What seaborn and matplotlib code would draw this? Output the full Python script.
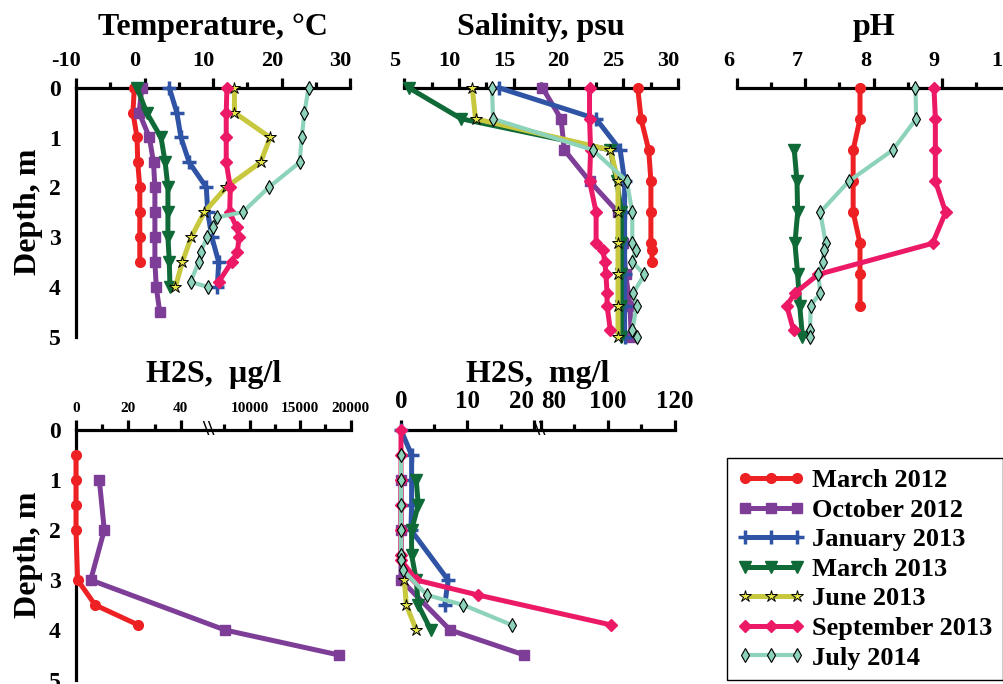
import numpy as np
import pandas as pd
import seaborn as sns
import matplotlib.pyplot as plt
from matplotlib.transforms import ScaledTranslation

## series names and look

seasons = ["March 2012", "October 2012", "January 2013", "March 2013",
           "June 2013", "September 2013", "July 2014"]
colors = ["#ED2024", "#7E3D97", "#2F54A5", "#0F6A37", "#C8C83E", "#EC1A66", "#8DD3BA"]
markers = ["o", "s", "+", "v", "*", "D", "d"]
msizes = [7, 7, 10, 8, 9, 6, 7]
edgecols = ["#ED2024", "#7E3D97", "#2F54A5", "#0F6A37", "black", "#EC1A66", "black"]
facecols = ["#ED2024", "#7E3D97", "#2F54A5", "#0F6A37", "#E6E64A", "#EC1A66", "#8DD3BA"]
mews = [1, 1, 2.5, 1, 0.7, 1, 0.8]
lwidths = [3.6, 3.6, 3.6, 3.6, 3.6, 3.6, 3.0]

## temperature, deg C

temp_depth = {
    "March 2012": [0, 0.5, 1, 1.5, 2, 2.5, 3, 3.5],
    "October 2012": [0, 0.5, 1, 1.5, 2, 2.5, 3, 3.5, 4, 4.5],
    "January 2013": [0, 0.5, 1, 1.5, 2, 2.5, 3, 3.5, 4],
    "March 2013": [0, 0.5, 1, 1.5, 2, 2.5, 3, 3.5, 4],
    "June 2013": [0, 0.5, 1, 1.5, 2, 2.5, 3, 3.5, 4],
    "September 2013": [0, 0.5, 1, 1.5, 2, 2.5, 2.8, 3, 3.3, 3.5, 3.9],
    "July 2014": [0, 0.5, 1, 1.5, 2, 2.5, 2.6, 2.8, 3, 3.3, 3.5, 3.9, 4],
}
temp_value = {
    "March 2012": [-1.5, -1.7, -1.1, -1.0, -0.7, -0.7, -0.7, -0.7],
    "October 2012": [-0.4, -0.8, 0.7, 1.3, 1.5, 1.5, 1.5, 1.5, 1.7, 2.2],
    "January 2013": [3.6, 4.7, 5.3, 6.5, 9.0, 9.2, 9.8, 10.8, 10.6],
    "March 2013": [-1.1, 0.3, 2.4, 3.0, 3.4, 3.4, 3.4, 3.6, 3.7],
    "June 2013": [13.1, 13.1, 18.3, 16.9, 11.9, 8.7, 6.8, 5.5, 4.5],
    "September 2013": [12.0, 11.9, 11.9, 11.9, 12.5, 12.4, 13.4, 13.8, 13.5, 12.7, 10.8],
    "July 2014": [23.9, 23.3, 22.9, 22.6, 18.1, 14.3, 10.6, 10.0, 9.1, 8.2, 7.9, 6.7, 9.2],
}

## salinity, psu

sal_depth = {
    "March 2012": [0, 0.5, 1, 1.5, 2, 2.5, 2.6, 2.8],
    "October 2012": [0, 0.5, 1, 1.5, 2, 2.5, 3, 3.5, 4],
    "January 2013": [0, 0.5, 1, 1.5, 2, 2.5, 3, 3.5, 4],
    "March 2013": [0, 0.5, 1, 1.5, 2, 2.5, 3, 3.5, 4],
    "June 2013": [0, 0.5, 1, 1.5, 2, 2.5, 3, 3.5, 4],
    "September 2013": [0, 0.5, 1, 1.5, 2, 2.5, 2.6, 2.8, 3, 3.3, 3.5, 3.9],
    "July 2014": [0, 0.5, 1, 1.5, 2, 2.5, 2.6, 2.8, 3, 3.3, 3.5, 3.9, 4],
}
sal_value = {
    "March 2012": [26.3, 26.6, 27.3, 27.5, 27.5, 27.5, 27.6, 27.6],
    "October 2012": [17.6, 19.3, 19.6, 21.9, 24.5, 25.0, 25.2, 25.6, 25.7],
    "January 2013": [13.6, 22.5, 24.7, 25.1, 25.1, 25.1, 25.1, 25.1, 25.1],
    "March 2013": [5.4, 10.2, 23.8, 24.4, 24.8, 24.8, 24.8, 24.8, 24.8],
    "June 2013": [11.2, 11.5, 23.8, 24.5, 24.5, 24.5, 24.5, 24.5, 24.5],
    "September 2013": [21.9, 21.9, 22.0, 21.9, 22.5, 22.5, 23.1, 23.3, 23.4, 23.5, 23.5, 23.8],
    "July 2014": [13.0, 13.1, 22.2, 25.3, 25.8, 25.8, 26.1, 25.8, 26.9, 25.9, 26.2, 25.8, 26.2],
}

## pH

ph_depth = {
    "March 2012": [0, 0.5, 1, 1.5, 2, 2.5, 3, 3.5],
    "March 2013": [1, 1.5, 2, 2.5, 3, 3.5, 4],
    "September 2013": [0, 0.5, 1, 1.5, 2, 2.5, 3, 3.3, 3.5, 3.9],
    "July 2014": [0, 0.5, 1, 1.5, 2, 2.5, 2.6, 2.8, 3, 3.3, 3.5, 3.9, 4],
}
ph_value = {
    "March 2012": [7.8, 7.8, 7.7, 7.7, 7.7, 7.8, 7.8, 7.8],
    "March 2013": [6.84, 6.88, 6.89, 6.85, 6.89, 6.92, 6.96],
    "September 2013": [8.88, 8.9, 8.9, 8.9, 9.05, 8.86, 7.19, 6.85, 6.73, 6.83],
    "July 2014": [8.61, 8.62, 8.28, 7.64, 7.22, 7.3, 7.27, 7.26, 7.19, 7.22, 7.08, 7.07, 7.07],
}

## H2S, ug/l

h2s_ug_depth = {
    "March 2012": [0.5, 1, 1.5, 2, 3, 3.5, 3.9],
    "October 2012": [1, 2, 3, 4, 4.5],
}
h2s_ug_value = {
    "March 2012": [0, 0, 0, 0, 0.6, 7.3, 23.8],
    "October 2012": [8.9, 10.8, 5.6, 7560, 18850],
}

## H2S, mg/l

h2s_mg_depth = {
    "October 2012": [1, 2, 3, 4, 4.5],
    "January 2013": [0, 0.5, 1, 1.5, 2, 3, 3.5],
    "March 2013": [1, 1.5, 2, 2.5, 3, 3.5, 4],
    "June 2013": [3, 3.5, 4],
    "September 2013": [0, 0.5, 1, 1.5, 2, 2.5, 2.6, 3, 3.3, 3.9],
    "July 2014": [0.5, 1, 1.5, 2, 2.5, 2.6, 2.8, 3.3, 3.5, 3.9],
}
h2s_mg_value = {
    "October 2012": [0, 0, 0, 7.4, 18.6],
    "January 2013": [0, 1.6, 1.6, 1.6, 1.5, 7.1, 6.6],
    "March 2013": [2.3, 2.6, 1.6, 1.6, 2.3, 2.6, 4.5],
    "June 2013": [0.5, 0.8, 2.3],
    "September 2013": [0, 0, 0, 0, 0, 0, 0, 2.3, 11.6, 101],
    "July 2014": [0, 0, 0, 0, 0, 0, 0.3, 3.9, 9.4, 16.7],
}


def broken_scale(src, dst):
    # piecewise linear axis with a squeezed gap (axis break)
    src = np.asarray(src, float)
    dst = np.asarray(dst, float)

    def make(a, b):
        def f(v):
            v = np.asarray(v, float)
            out = np.interp(v, a, b)
            out = np.where(v < a[0], b[0] + (v - a[0]) * (b[1] - b[0]) / (a[1] - a[0]), out)
            out = np.where(v > a[-1], b[-1] + (v - a[-1]) * (b[-1] - b[-2]) / (a[-1] - a[-2]), out)
            return out
        return f
    return make(src, dst), make(dst, src)


def draw_panel(ax, depth, value):
    for i, s in enumerate(seasons):
        if s not in depth:
            continue
        df = pd.DataFrame({"depth": depth[s], "value": value[s]})
        sns.lineplot(data=df, x="value", y="depth", ax=ax, orient="y", sort=False,
                     estimator=None, color=colors[i], marker=markers[i],
                     markersize=msizes[i], linewidth=lwidths[i],
                     markeredgecolor=edgecols[i], markerfacecolor=facecols[i],
                     markeredgewidth=mews[i], label=s, legend=False,
                     clip_on=False, zorder=3)


def style_axis(ax, show_y, labelsize=16):
    ax.set_xlabel("")
    ax.set_ylabel("")
    ax.xaxis.tick_top()
    for side in ["right", "bottom"]:
        ax.spines[side].set_visible(False)
    ax.spines["top"].set_linewidth(2.3)
    ax.spines["top"].set_color("black")
    ax.spines["left"].set_visible(show_y)
    ax.spines["left"].set_linewidth(2.3)
    ax.spines["left"].set_color("black")
    ax.tick_params(axis="x", which="major", direction="out", length=7, width=2.3,
                   color="black", labelsize=labelsize, pad=5, top=True, bottom=False,
                   labeltop=True, labelbottom=False)
    ax.tick_params(axis="x", which="minor", direction="out", length=4, width=2.3,
                   color="black", top=True, bottom=False)
    if show_y:
        ax.set_yticks([0, 1, 2, 3, 4, 5])
        ax.set_yticks(np.arange(0.5, 5, 1), minor=True)
        ax.tick_params(axis="y", which="major", direction="out", length=7, width=2.3,
                       color="black", labelsize=17, pad=4)
        ax.tick_params(axis="y", which="minor", direction="out", length=3, width=2.3,
                       color="black")
        ax.annotate("Depth, m", xy=(0, 0.5), xycoords="axes fraction", xytext=(-34, 0),
                    textcoords="offset points", rotation=90, ha="center", va="center",
                    fontsize=23)
    else:
        ax.set_yticks([])
        ax.tick_params(axis="y", which="both", left=False, labelleft=False)


def add_title(ax, text, up):
    ax.annotate(text, xy=(0.5, 1), xycoords="axes fraction", xytext=(0, up),
                textcoords="offset points", ha="center", va="center", fontsize=23)


def shift_labels(ax, px):
    off = ScaledTranslation(px / 100, 0, ax.figure.dpi_scale_trans)
    for t in ax.xaxis.get_major_ticks():
        t.label2.set_transform(t.label2.get_transform() + off)


sns.set_style("white", rc={"axes.edgecolor": "black", "xtick.color": "black",
                           "ytick.color": "black", "text.color": "black"})
plt.rcParams["font.family"] = ["Liberation Serif", "DejaVu Serif"]
plt.rcParams["font.weight"] = "bold"
plt.rcParams["axes.unicode_minus"] = False

W, H = 1004, 684
fig = plt.figure(figsize=(W / 100, H / 100), dpi=100)


def box(left, right, top, bottom):
    return [left / W, 1 - bottom / H, (right - left) / W, (bottom - top) / H]


ax_t = fig.add_axes(box(76, 350.4, 87.7, 336.7))
ax_s = fig.add_axes(box(404.3, 678.3, 87.7, 336.7))
ax_p = fig.add_axes(box(736.7, 1010.7, 87.7, 336.7))
ax_u = fig.add_axes(box(76, 350.6, 430, 680))
ax_m = fig.add_axes(box(401, 675, 430, 680))

# temperature
draw_panel(ax_t, temp_depth, temp_value)
ax_t.set_xlim(-10, 30)
ax_t.set_ylim(5, 0)
ax_t.set_xticks([-10, 0, 10, 20, 30])
ax_t.set_xticks([-5, 5, 15, 25], minor=True)
style_axis(ax_t, True)
add_title(ax_t, "Temperature, °C", 43)

# salinity
draw_panel(ax_s, sal_depth, sal_value)
ax_s.set_xlim(5, 30)
ax_s.set_ylim(4, 0)
ax_s.set_xticks([5, 10, 15, 20, 25, 30])
ax_s.set_xticks([7.5, 12.5, 17.5, 22.5, 27.5], minor=True)
style_axis(ax_s, False)
add_title(ax_s, "Salinity, psu", 43)

# pH
draw_panel(ax_p, ph_depth, ph_value)
ax_p.set_xlim(6, 10)
ax_p.set_ylim(4, 0)
ax_p.set_xticks([6, 7, 8, 9, 10])
ax_p.set_xticks([6.5, 7.5, 8.5, 9.5], minor=True)
style_axis(ax_p, False)
add_title(ax_p, "pH", 43)

# H2S ug/l, broken axis 0-50 | 6000-20000
fwd, inv = broken_scale([0, 50, 6000, 20000], [0, 50, 50.84, 104.8])
ax_u.set_xscale("function", functions=(fwd, inv))
draw_panel(ax_u, h2s_ug_depth, h2s_ug_value)
ax_u.set_xlim(0, 20000)
ax_u.set_ylim(5, 0)
ax_u.set_xticks([0, 20, 40, 10000, 15000, 20000], ["0", "20", "40", "10000", "15000", "20000"])
ax_u.set_xticks([10, 30, 7500, 12500, 17500], minor=True)
style_axis(ax_u, True, labelsize=11)
ax_u.tick_params(axis="x", which="major", pad=4)
add_title(ax_u, "H2S,  µg/l", 40)

# H2S mg/l, broken axis 0-20.5 | 80-120
fwd2, inv2 = broken_scale([0, 20.5, 80, 120], [0, 20.5, 21.1, 41.3])
ax_m.set_xscale("function", functions=(fwd2, inv2))
draw_panel(ax_m, h2s_mg_depth, h2s_mg_value)
ax_m.set_xlim(0, 120)
ax_m.set_ylim(5, 0)
ax_m.set_xticks([0, 10, 20, 80, 100, 120], ["0", "10", "20", "80", "100", "120"])
ax_m.set_xticks([5, 15, 90, 110], minor=True)
style_axis(ax_m, False, labelsize=18)
add_title(ax_m, "H2S,  mg/l", 40)

# axis break marks
for ax, brk in [(ax_u, 3000), (ax_m, 50)]:
    ax.text(brk, 1.0, "\\\\", transform=ax.get_xaxis_transform(), ha="center", va="center",
            fontsize=16, fontweight="bold", clip_on=False, zorder=4)

shift_labels(ax_t, -10)
shift_labels(ax_s, -10)
shift_labels(ax_p, -8)
mt = ax_m.xaxis.get_major_ticks()
mt[2].label2.set_horizontalalignment("right")
mt[3].label2.set_horizontalalignment("left")

# legend
handles, labels = ax_t.get_legend_handles_labels()
fig.legend(handles, labels, loc="upper left", bbox_to_anchor=(726.7 / W, 1 - 458.3 / H),
           frameon=True, fancybox=False, edgecolor="black", framealpha=1,
           prop={"weight": "bold", "size": 19}, handlelength=2.55, handletextpad=0.3,
           labelspacing=0.23, borderpad=0.4, borderaxespad=0, numpoints=3)

fig.savefig("out.png", dpi=100)
